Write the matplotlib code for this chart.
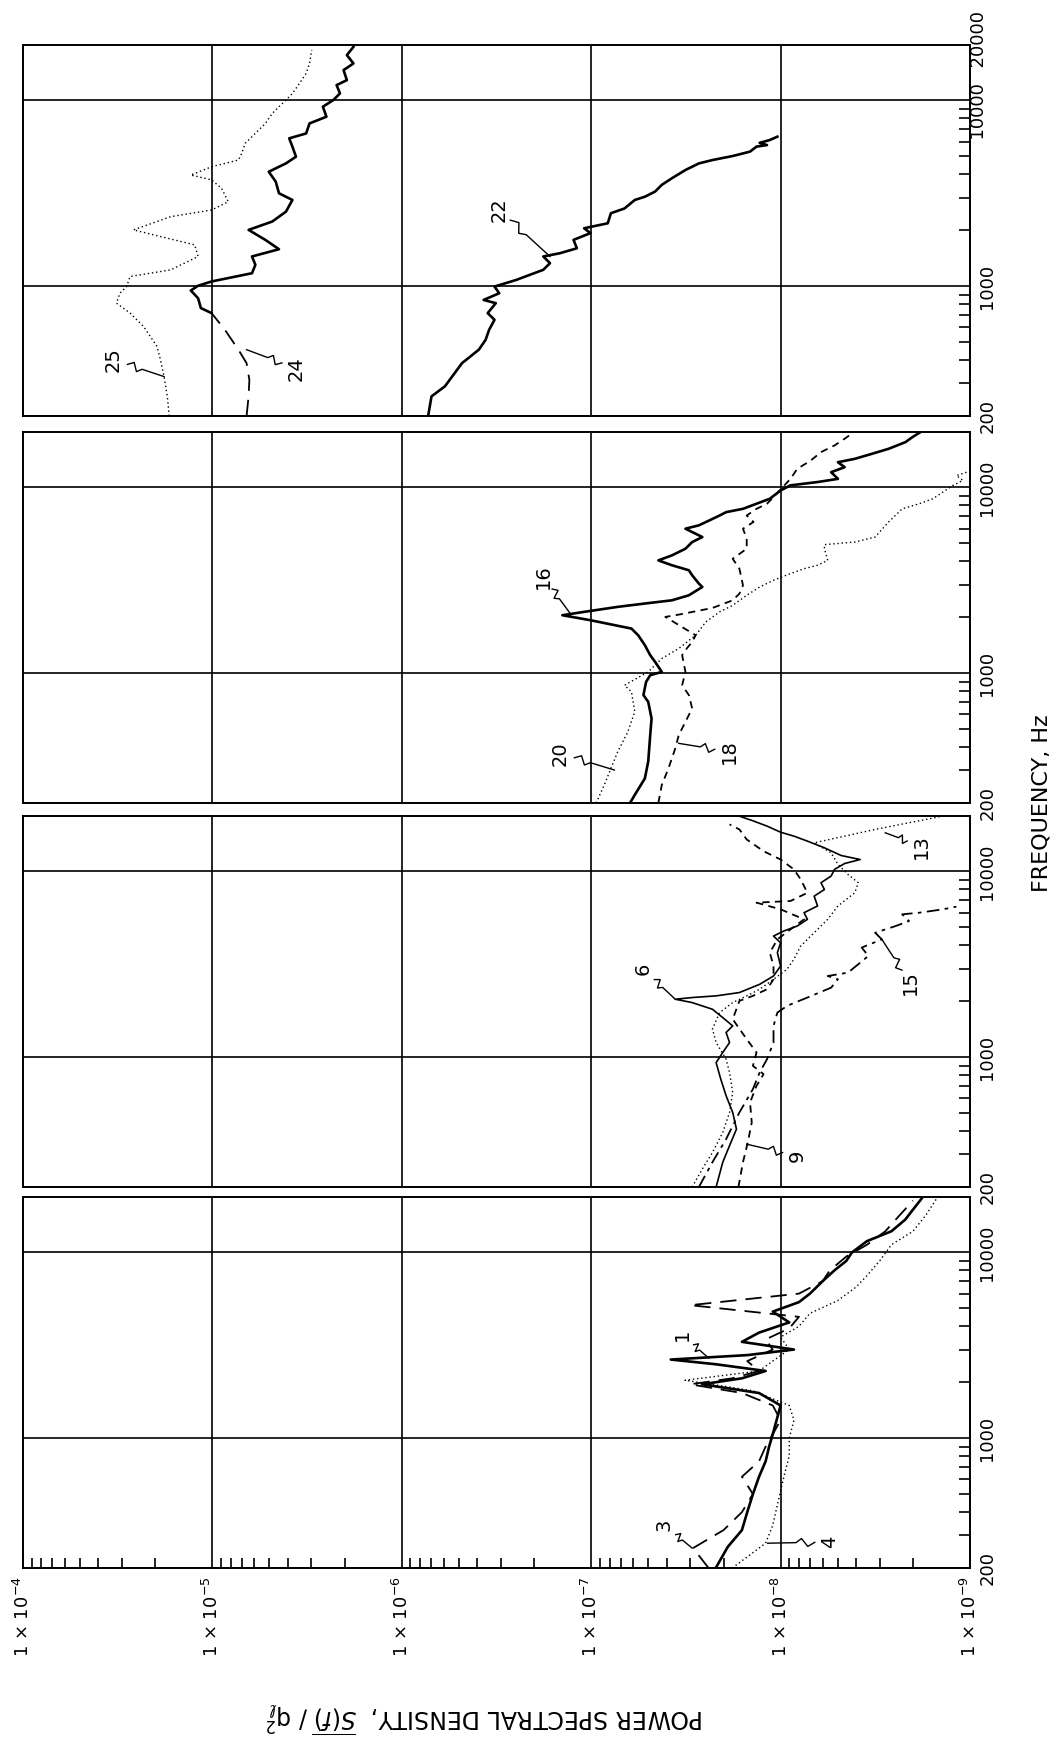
import matplotlib

matplotlib.use("Agg")
import matplotlib.pyplot as plt
import numpy as np
from matplotlib.ticker import FixedLocator, NullFormatter
from matplotlib.transforms import blended_transform_factory

plt.rcParams["font.family"] = ["DejaVu Sans"]

# frequency (Hz) / normalised PSD pairs
f22 = [200, 255, 289, 385, 455, 514, 582, 659, 716, 810, 843, 916, 995, 1080, 1225, 1330,
       1445, 1505, 1600, 1775, 1930, 2050, 2180, 2470, 2620, 2910, 3030, 3230, 3510, 3810,
       4220, 4580, 4775, 5020, 5300, 5640, 5750, 5910, 6120, 6380]
s22 = [7.26e-7, 6.97e-7, 5.92e-7, 4.81e-7, 3.92e-7, 3.61e-7, 3.46e-7, 3.24e-7, 3.52e-7,
       3.19e-7, 3.70e-7, 3.06e-7, 3.24e-7, 2.49e-7, 1.79e-7, 1.65e-7, 1.79e-7, 1.46e-7,
       1.19e-7, 1.24e-7, 1.01e-7, 1.09e-7, 8.18e-8, 7.87e-8, 6.67e-8, 5.89e-8, 5.21e-8,
       4.60e-8, 4.24e-8, 3.75e-8, 3.18e-8, 2.70e-8, 2.29e-8, 1.79e-8, 1.45e-8, 1.34e-8,
       1.18e-8, 1.29e-8, 1.14e-8, 1.04e-8]

f24 = [200, 255, 313, 385, 455, 582, 716, 762, 861, 948, 1005, 1060, 1174, 1303, 1445, 1581,
       1774, 2009, 2228, 2518, 2911, 3163, 3652, 4130, 4581, 4977, 5636, 6250, 6640, 7520,
       8170, 9250, 10040, 10910, 12090, 12860, 14560, 15810, 17540, 19420]
s24 = [6.6e-6, 6.44e-6, 6.38e-6, 6.6e-6, 7.29e-6, 8.59e-6, 1.01e-5, 1.15e-5, 1.19e-5,
       1.30e-5, 1.19e-5, 1.01e-5, 6.18e-6, 5.93e-6, 6.18e-6, 4.45e-6, 5.25e-6, 6.44e-6,
       4.83e-6, 4.09e-6, 3.78e-6, 4.45e-6, 4.63e-6, 5.04e-6, 4.09e-6, 3.62e-6, 3.78e-6,
       3.93e-6, 3.20e-6, 3.07e-6, 2.50e-6, 2.61e-6, 2.30e-6, 2.12e-6, 2.21e-6, 1.95e-6,
       2.03e-6, 1.80e-6, 1.95e-6, 1.80e-6]

f25 = [200, 255, 326, 401, 474, 607, 716, 810, 916, 995, 1127, 1224, 1445, 1668, 2009, 2367,
       2570, 2851, 3365, 3733, 3966, 4395, 4775, 5188, 5875, 6380, 7520, 8510, 9250, 10040,
       10910, 12340, 13970, 15810, 18680]
s25 = [1.69e-5, 1.73e-5, 1.80e-5, 1.88e-5, 1.96e-5, 2.31e-5, 2.72e-5, 3.21e-5, 3.08e-5,
       2.84e-5, 2.72e-5, 1.66e-5, 1.19e-5, 1.24e-5, 2.61e-5, 1.66e-5, 1.01e-5, 8.24e-6,
       8.95e-6, 1.01e-5, 1.30e-5, 1.01e-5, 7.29e-6, 7.00e-6, 6.71e-6, 6.18e-6, 5.25e-6,
       4.83e-6, 4.45e-6, 4.09e-6, 3.78e-6, 3.47e-6, 3.20e-6, 3.07e-6, 2.99e-6]

f16 = [200, 221, 271, 334, 464, 570, 701, 762, 898, 975, 1016, 1151, 1250, 1416, 1600, 1738,
       1928, 2051, 2138, 2275, 2371, 2467, 2626, 2911, 3034, 3365, 3581, 3811, 4047, 4306,
       4677, 5080, 5405, 5995, 6250, 6640, 7060, 7360, 7670, 8170, 8690, 9630, 10260,
       10690, 11120, 12080, 12850, 13670, 14250, 15160, 16140, 17540, 18680, 19690]
s16 = [6.24e-8, 5.89e-8, 5.21e-8, 5.00e-8, 4.88e-8, 4.80e-8, 5.00e-8, 5.30e-8, 5.13e-8,
       4.88e-8, 4.24e-8, 4.60e-8, 4.88e-8, 5.21e-8, 5.65e-8, 6.13e-8, 1.01e-7, 1.42e-7,
       1.09e-7, 7.24e-8, 5.21e-8, 3.75e-8, 3.05e-8, 2.59e-8, 2.70e-8, 2.93e-8, 3.05e-8,
       3.75e-8, 4.42e-8, 3.75e-8, 3.18e-8, 2.93e-8, 2.59e-8, 3.18e-8, 2.70e-8, 2.38e-8,
       2.10e-8, 1.94e-8, 1.58e-8, 1.34e-8, 1.14e-8, 1.00e-8, 8.87e-9, 6.38e-9, 4.98e-9,
       5.41e-9, 4.59e-9, 4.98e-9, 4.06e-9, 3.30e-9, 2.69e-9, 2.19e-9, 2.01e-9, 1.85e-9]

f18 = [200, 250, 307, 393, 464, 547, 646, 762, 861, 1016, 1250, 1358, 1473, 1600, 2009, 2066,
       2244, 2467, 2679, 2972, 3652, 4130, 4677, 5300, 5995, 6515, 7060, 7670, 8170, 8870,
       9750, 11120, 12590, 13970, 15490, 16830, 18290, 19410]
s18 = [4.42e-8, 4.24e-8, 3.91e-8, 3.60e-8, 3.45e-8, 3.18e-8, 2.93e-8, 3.05e-8, 3.31e-8,
       3.18e-8, 3.31e-8, 3.13e-8, 2.93e-8, 2.81e-8, 4.06e-8, 3.45e-8, 2.29e-8, 1.79e-8,
       1.65e-8, 1.58e-8, 1.65e-8, 1.79e-8, 1.51e-8, 1.51e-8, 1.58e-8, 1.39e-8, 1.51e-8,
       1.34e-8, 1.18e-8, 1.09e-8, 1.00e-8, 8.87e-9, 8.17e-9, 6.92e-9, 6.12e-9, 5.19e-9,
       4.59e-9, 4.23e-9]

f20 = [200, 250, 307, 378, 484, 620, 794, 861, 1016, 1199, 1358, 1600, 1888, 2138, 2318,
       2626, 2911, 3163, 3436, 3652, 3811, 4047, 4677, 4920, 5080, 5405, 6515, 7670, 8170,
       8690, 9440, 10260, 10910, 11590, 12080]
s20 = [9.42e-8, 8.53e-8, 7.87e-8, 7.24e-8, 6.40e-8, 5.89e-8, 6.13e-8, 6.67e-8, 5.00e-8,
       4.24e-8, 3.45e-8, 2.81e-8, 2.48e-8, 2.10e-8, 1.79e-8, 1.51e-8, 1.29e-8, 1.09e-8,
       8.87e-9, 7.52e-9, 6.38e-9, 5.64e-9, 5.87e-9, 5.87e-9, 4.06e-9, 3.17e-9, 2.69e-9,
       2.28e-9, 1.85e-9, 1.57e-9, 1.39e-9, 1.23e-9, 1.09e-9, 1.18e-9, 1.04e-9]

f6 = [200, 272, 334, 410, 504, 620, 762, 935, 1060, 1199, 1358, 1473, 1633, 1811, 1967, 2051,
      2094, 2138, 2228, 2467, 2735, 3097, 3652, 4130, 4487, 4775, 5080, 5520, 5995, 6515,
      7360, 7990, 8690, 9440, 10260, 11030, 11590, 12180, 13400, 14560, 15490, 16260,
      17540, 18680, 19830]
s6 = [2.19e-8, 2.02e-8, 1.86e-8, 1.71e-8, 1.79e-8, 1.94e-8, 2.07e-8, 2.19e-8, 2.02e-8,
      1.86e-8, 1.94e-8, 1.79e-8, 2.02e-8, 2.29e-8, 2.93e-8, 3.60e-8, 2.93e-8, 2.19e-8,
      1.65e-8, 1.29e-8, 1.09e-8, 1.00e-8, 1.04e-8, 1.00e-8, 1.09e-8, 9.63e-9, 8.17e-9,
      7.22e-9, 7.52e-9, 6.38e-9, 6.65e-9, 5.87e-9, 6.12e-9, 5.41e-9, 5.19e-9, 4.59e-9,
      3.80e-9, 4.79e-9, 5.87e-9, 7.22e-9, 8.51e-9, 1.00e-8, 1.18e-8, 1.39e-8, 1.65e-8]

f9 = [200, 272, 348, 445, 570, 701, 810, 898, 1060, 1250, 1600, 2009, 2138, 2321, 2626, 3097,
      3652, 4306, 4875, 5520, 6250, 6790, 6930, 7670, 9060, 10260, 11590, 12850, 14860,
      16830, 17910]
s9 = [1.67e-8, 1.58e-8, 1.49e-8, 1.42e-8, 1.45e-8, 1.34e-8, 1.23e-8, 1.40e-8, 1.34e-8,
      1.51e-8, 1.79e-8, 1.65e-8, 1.40e-8, 1.18e-8, 1.09e-8, 1.09e-8, 1.14e-8, 1.04e-8,
      8.87e-9, 7.52e-9, 1.00e-8, 1.34e-8, 8.87e-9, 7.22e-9, 7.83e-9, 8.51e-9, 1.00e-8,
      1.23e-8, 1.51e-8, 1.65e-8, 1.86e-8]

f13 = [200, 250, 307, 393, 504, 646, 827, 975, 1199, 1416, 1738, 1967, 2138, 2321, 2626,
       2972, 3365, 3966, 4677, 5520, 6515, 7670, 8690, 9640, 10910, 12590, 14250, 16830, 19690]
s13 = [2.93e-8, 2.59e-8, 2.29e-8, 2.02e-8, 1.86e-8, 1.79e-8, 1.86e-8, 1.94e-8, 2.19e-8,
       2.29e-8, 2.10e-8, 1.79e-8, 1.51e-8, 1.29e-8, 1.09e-8, 9.25e-9, 8.51e-9, 7.83e-9,
       6.65e-9, 5.64e-9, 4.98e-9, 4.06e-9, 3.89e-9, 4.41e-9, 4.98e-9, 5.41e-9, 6.65e-9,
       3.17e-9, 1.45e-9]

f15 = [200, 272, 362, 504, 673, 827, 975, 1199, 1473, 1738, 1888, 2094, 2367, 2626, 2735,
       2851, 3163, 3508, 3890, 4306, 4677, 5080, 5405, 5875, 5995, 6250, 6460]
s15 = [2.70e-8, 2.29e-8, 1.94e-8, 1.65e-8, 1.40e-8, 1.29e-8, 1.18e-8, 1.09e-8, 1.09e-8,
       1.04e-8, 9.25e-9, 7.22e-9, 5.41e-9, 4.98e-9, 5.64e-9, 4.41e-9, 3.89e-9, 3.44e-9,
       3.73e-9, 2.92e-9, 3.17e-9, 2.47e-9, 2.10e-9, 2.28e-9, 1.85e-9, 1.39e-9, 1.18e-9]

f1 = [200, 260, 320, 400, 500, 620, 750, 900, 1050, 1250, 1500, 1750, 1950, 2100, 2300,
      2500, 2650, 2800, 3000, 3300, 3700, 4200, 4800, 5400, 6000, 7000, 8000, 9000, 10000,
      11500, 13000, 15000, 17000, 19500]
s1 = [2.2e-8, 1.9e-8, 1.6e-8, 1.5e-8, 1.4e-8, 1.3e-8, 1.2e-8, 1.15e-8, 1.1e-8, 1.05e-8,
      1.0e-8, 1.3e-8, 2.6e-8, 1.6e-8, 1.2e-8, 2.2e-8, 3.8e-8, 1.5e-8, 8.5e-9, 1.6e-8,
      1.3e-8, 9.0e-9, 1.1e-8, 8.0e-9, 7.0e-9, 6.0e-9, 5.2e-9, 4.5e-9, 4.2e-9, 3.5e-9,
      2.6e-9, 2.2e-9, 2.0e-9, 1.8e-9]

f3 = [200, 256, 320, 400, 500, 620, 750, 900, 1050, 1250, 1500, 1750, 1950, 2100, 2300,
      2600, 3000, 3400, 3900, 4500, 5200, 6000, 7000, 8000, 9500, 11000, 13000, 15500, 19000]
s3 = [2.4e-8, 2.9e-8, 2.0e-8, 1.6e-8, 1.4e-8, 1.6e-8, 1.3e-8, 1.2e-8, 1.1e-8, 1.0e-8,
      1.1e-8, 1.6e-8, 3.0e-8, 1.8e-8, 1.3e-8, 1.5e-8, 1.1e-8, 1.2e-8, 9.0e-9, 8.0e-9,
      3.0e-8, 8.0e-9, 6.0e-9, 5.5e-9, 4.5e-9, 3.5e-9, 2.8e-9, 2.4e-9, 2.0e-9]

f4 = [200, 272, 340, 420, 520, 650, 800, 1000, 1250, 1500, 1800, 2050, 2300, 2600, 3000,
      3500, 4000, 4700, 5500, 6500, 7500, 9000, 11000, 13000, 16000, 19500]
s4 = [1.8e-8, 1.2e-8, 1.1e-8, 1.05e-8, 1.0e-8, 9.5e-9, 9.0e-9, 9.0e-9, 8.5e-9, 9.0e-9,
      1.4e-8, 3.2e-8, 1.3e-8, 1.1e-8, 9.0e-9, 1.0e-8, 8.0e-9, 7.0e-9, 5.0e-9, 4.0e-9,
      3.5e-9, 3.0e-9, 2.6e-9, 2.0e-9, 1.7e-9, 1.5e-9]

psd_decades = [1e-4, 1e-5, 1e-6, 1e-7, 1e-8, 1e-9]
psd_labels = [r"1 $\times$ 10$^{-4}$", r"1 $\times$ 10$^{-5}$", r"1 $\times$ 10$^{-6}$",
              r"1 $\times$ 10$^{-7}$", r"1 $\times$ 10$^{-8}$", r"1 $\times$ 10$^{-9}$"]
freq_ticks = [200, 1000, 10000]
freq_labels = ["200", "1000", "10000"]

SOLID = dict(color="black", lw=1.9, linestyle="-")
THIN = dict(color="black", lw=1.2, linestyle="-")
DOTTED = dict(color="black", lw=1.0, linestyle=(0, (1, 2)))
DASHED = dict(color="black", lw=1.3, linestyle=(0, (4, 3)))
LONGDASH = dict(color="black", lw=1.3, linestyle=(0, (9, 5)))
DASHDOT = dict(color="black", lw=1.3, linestyle=(0, (7, 3, 2, 3)))

# (freq, psd, style, label, label_xy, leader_end_xy)
panels = [
    [
        (f25, s25, DOTTED, "25", (3.34e-5, 402), (1.8e-5, 326)),
        (f24, s24, SOLID, "24", (3.62e-6, 362), (6.6e-6, 455)),
        (f22, s22, SOLID, "22", (3.06e-7, 2570), (1.65e-7, 1445)),
    ],
    [
        (f20, s20, DOTTED, "20", (1.46e-7, 370), (7.55e-8, 301)),
        (f18, s18, DASHED, "18", (1.86e-8, 378), (3.45e-8, 419)),
        (f16, s16, SOLID, "16", (1.79e-7, 3296), (1.29e-7, 2094)),
    ],
    [
        (f13, s13, DOTTED, "13", (1.81e-9, 13670), (2.8e-9, 16140)),
        (f9, s9, DASHED, "9", (8.17e-9, 294), (1.51e-8, 340)),
        (f15, s15, DASHDOT, "15", (2.07e-9, 2518), (2.92e-9, 4306)),
        (f6, s6, THIN, "6", (5.3e-8, 2972), (3.6e-8, 2051)),
    ],
    [
        (f4, s4, DOTTED, "4", (5.5e-9, 276), (1.17e-8, 272)),
        (f3, s3, LONGDASH, "3", (4.12e-8, 340), (2.93e-8, 256)),
        (f1, s1, SOLID, "1", (3.3e-8, 3600), (2.4e-8, 2700)),
    ],
]


def leader(ax, start, end, gap=15, amp=4):
    # hand-drawn style leader: short zigzag near the label, then straight to the curve
    to_disp = ax.transData
    a = np.array(to_disp.transform(start))
    b = np.array(to_disp.transform(end))
    d = b - a
    u = d / np.hypot(*d)
    n = np.array([-u[1], u[0]])
    a = a + u * gap
    d = b - a
    pts = [a, a + 0.15 * d + amp * n, a + 0.28 * d - amp * n, a + 0.4 * d, b]
    pts = to_disp.inverted().transform(np.array(pts))
    ax.plot(pts[:, 0], pts[:, 1], color="black", lw=1.0)


fig = plt.figure(figsize=(10.58, 17.54), dpi=100)
left, width, height = 23 / 1058, 947 / 1058, 0.2118
bottoms = [1 - 416 / 1754, 1 - 803 / 1754, 1 - 1187 / 1754, 1 - 1568 / 1754]

for i, (curves, bottom) in enumerate(zip(panels, bottoms)):
    ax = fig.add_axes([left, bottom, width, height])
    ax.set_xscale("log")
    ax.set_yscale("log")
    ax.set_xlim(1e-4, 1e-9)
    ax.set_ylim(200, 20000)

    for f, s, style, name, lab, end in curves:
        if name == "24":
            # low-frequency end is drawn dashed
            ax.plot(s[:7], f[:7], **LONGDASH)
            ax.plot(s[6:], f[6:], **style)
        else:
            ax.plot(s, f, **style)
        ax.text(lab[0], lab[1], name, rotation=90, fontsize=14, ha="center", va="center")
        leader(ax, lab, end)

    ax.xaxis.set_major_locator(FixedLocator(psd_decades))
    ax.xaxis.set_minor_locator(FixedLocator(
        [m * d for d in psd_decades[1:] for m in range(2, 10)]))
    ax.xaxis.set_minor_formatter(NullFormatter())
    ax.grid(True, which="major", color="black", lw=1.2)
    ax.yaxis.set_major_locator(FixedLocator(freq_ticks))
    ax.yaxis.set_minor_locator(FixedLocator(
        [300, 400, 500, 600, 700, 800, 900, 2000, 3000, 4000, 5000, 6000, 7000, 8000, 9000]))
    ax.yaxis.set_minor_formatter(NullFormatter())
    ax.yaxis.tick_right()
    ax.tick_params(axis="y", which="major", length=0, pad=6, labelsize=13,
                   labelrotation=90)
    ax.tick_params(axis="y", which="minor", direction="in", length=8, width=1.2)
    if i == 0:
        # top strip: 20000 at the top edge, 10000 pushed down to clear it
        ax.set_yticklabels(["200", "1000", ""])
        tr = blended_transform_factory(ax.transAxes, ax.transData)
        ax.text(1.0, 20000, "  20000", transform=tr, rotation=90, fontsize=13,
                ha="left", va="center")
        ax.text(1.0, 8100, "  10000", transform=tr, rotation=90, fontsize=13,
                ha="left", va="center")
    else:
        ax.set_yticklabels(freq_labels)
    for lbl in ax.get_yticklabels():
        lbl.set_va("center")

    if i == 3:
        ax.set_xticklabels(psd_labels)
        ax.tick_params(axis="x", which="major", length=0, pad=6, labelsize=13,
                       labelrotation=90)
        ax.tick_params(axis="x", which="minor", direction="in", length=7, width=1.2)
        for lbl in ax.get_xticklabels():
            lbl.set_va("top")
    else:
        ax.tick_params(axis="x", which="both", length=0, labelbottom=False)

    for sp in ax.spines.values():
        sp.set_linewidth(1.4)

fig.text(1042 / 1058, 1 - 803 / 1754, "FREQUENCY, Hz", rotation=90, fontsize=16,
         ha="center", va="center")
fig.text(485 / 1058, 1 - 1718 / 1754,
         r"POWER SPECTRAL DENSITY,  $\overline{S(f)}$ / q$_\ell^2$",
         rotation=180, fontsize=17, ha="center", va="center")

fig.savefig("out.png", dpi=100)
